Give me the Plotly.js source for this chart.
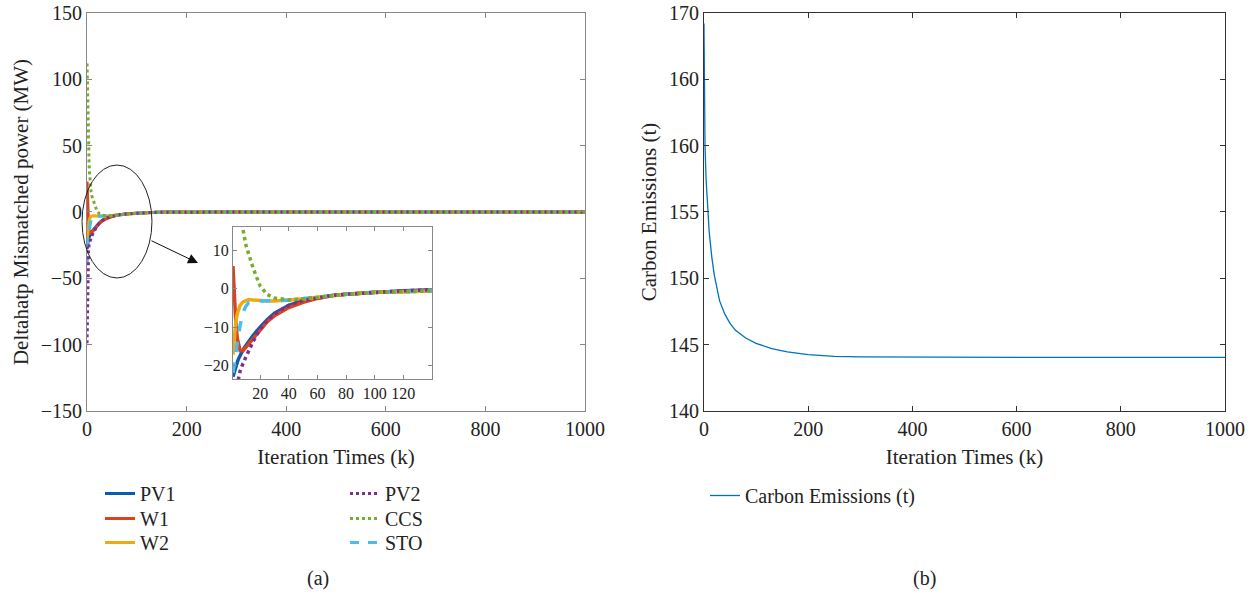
<!DOCTYPE html>
<html>
<head>
<meta charset="utf-8">
<script src="https://cdn.plot.ly/plotly-3.0.1.min.js"></script>
<style>html,body{margin:0;padding:0;background:#fff;}#chart{width:1258px;height:599px;}</style>
</head>
<body>
<div id="chart"></div>
<script>
// Iteration index for the mismatched-power series
const K    = [0, 1, 2, 3, 4, 5, 6, 8, 10, 12, 15, 20, 25, 30, 40, 50, 60, 70, 80, 100, 120, 140, 170, 200, 300, 400, 600, 800, 1000];
const PV1  = [-28, -23, -21.5, -20.3, -19.2, -18.2, -17.3, -16.0, -14.8, -13.7, -12.2, -10.0, -8.0, -6.4, -4.3, -3.0, -2.3, -1.75, -1.4, -0.9, -0.5, -0.25, -0.1, -0.04, 0, 0, 0, 0, 0];
const PV2  = [-99, -55, -38, -30, -25, -23, -21.5, -19.5, -17.8, -16.2, -13.8, -10.5, -8.2, -6.5, -4.3, -3.0, -2.3, -1.75, -1.4, -0.9, -0.5, -0.25, -0.1, -0.04, 0, 0, 0, 0, 0];
const W1   = [23, 6, -3, -9, -13, -15.3, -16.2, -16.2, -15.3, -14.3, -12.9, -10.5, -8.6, -7.0, -4.9, -3.5, -2.5, -1.8, -1.4, -0.9, -0.5, -0.25, -0.1, -0.04, 0, 0, 0, 0, 0];
const W2   = [-22, -17.2, -12, -8.5, -6.5, -5.2, -4.3, -3.4, -3.0, -2.8, -2.9, -3.1, -3.2, -3.2, -3.0, -2.6, -2.2, -1.8, -1.4, -0.9, -0.5, -0.25, -0.1, -0.04, 0, 0, 0, 0, 0];
const CCS  = [112, 85, 62, 47, 37, 29, 23, 15.5, 11.5, 9, 5.5, 0.7, -1.5, -2.4, -2.9, -2.6, -2.2, -1.8, -1.4, -0.9, -0.5, -0.25, -0.1, -0.04, 0, 0, 0, 0, 0];
const STO  = [-40, -22, -20, -17, -14, -11.5, -9.5, -6.2, -4.5, -3.6, -3.2, -3.2, -3.2, -3.2, -3.0, -2.6, -2.2, -1.8, -1.4, -0.9, -0.5, -0.25, -0.1, -0.04, 0, 0, 0, 0, 0];

// Carbon emissions
const CK = [0, 1, 2, 4, 6, 10, 15, 20, 30, 40, 50, 60, 80, 100, 130, 160, 200, 250, 300, 400, 500, 600, 800, 1000];
const CE = [169.2, 163, 160, 157.5, 155.8, 153.5, 151.6, 150.2, 148.3, 147.3, 146.6, 146.1, 145.5, 145.1, 144.7, 144.45, 144.25, 144.12, 144.08, 144.05, 144.04, 144.04, 144.04, 144.04];

const rightTicks = [140, 145, 150, 155, 160, 165, 170];
const rightTickText = ['140', '145', '150', '155', '160', '160', '170'];
const insetXTicks = [20, 40, 60, 80, 100, 120];
const insetYTicks = [-20, -10, 0, 10];

// legend slot: column (0/1) and row (0..2)
const series = [
  {name: 'PV1', y: PV1, color: '#0a5cb0', dash: 'solid', col: 0, row: 0},
  {name: 'W1',  y: W1,  color: '#d9431e', dash: 'solid', col: 0, row: 1},
  {name: 'W2',  y: W2,  color: '#edaa12', dash: 'solid', col: 0, row: 2},
  {name: 'STO', y: STO, color: '#4cbcec', dash: 'dash',  col: 1, row: 2},
  {name: 'PV2', y: PV2, color: '#7e2f8e', dash: 'dot',   col: 1, row: 0},
  {name: 'CCS', y: CCS, color: '#77ac30', dash: 'dot',   col: 1, row: 1}
];

const FONT = 'Liberation Serif, Times New Roman, serif';
const legColX = [100, 345];
const legRowTop = [474, 499, 523];
const legBase = {orientation: 'v', xanchor: 'left', yanchor: 'top',
  font: {family: FONT, size: 20, color: '#222'}, bgcolor: 'rgba(0,0,0,0)'};

const traces = [];
const legends = {};
series.forEach((s, i) => {
  const lname = i === 0 ? 'legend' : 'legend' + (i + 2);
  legends[lname] = Object.assign({}, legBase, {x: legColX[s.col] / 1258, y: 1 - legRowTop[s.row] / 599});
  traces.push({x: K, y: s.y, type: 'scatter', mode: 'lines', name: s.name,
    line: {color: s.color, width: 3, dash: s.dash}, xaxis: 'x', yaxis: 'y', legend: lname});
});
series.forEach(s => {
  traces.push({x: K.slice(1), y: s.y.slice(1), type: 'scatter', mode: 'lines', name: s.name, showlegend: false,
    line: {color: s.color, width: 3.5, dash: s.dash}, xaxis: 'x3', yaxis: 'y3'});
});
traces.push({x: CK, y: CE, type: 'scatter', mode: 'lines', name: 'Carbon Emissions (t)',
  line: {color: '#0072bd', width: 1.3}, xaxis: 'x2', yaxis: 'y2', legend: 'legend2'});
legends.legend2 = Object.assign({}, legBase, {x: 705/1258, y: 1 - 476/599});

const axBase = {showgrid: false, zeroline: false, showline: true, mirror: 'ticks',
  ticks: 'inside', ticklen: 5, tickwidth: 1, linewidth: 1,
  tickfont: {family: FONT, size: 20, color: '#222'}};

const layout = Object.assign({
  width: 1258, height: 599,
  margin: {l: 0, r: 0, t: 0, b: 0},
  paper_bgcolor: '#fff', plot_bgcolor: '#fff',
  font: {family: FONT, size: 20, color: '#222'},
  xaxis: Object.assign({}, axBase, {domain: [0.0692, 0.4650], range: [0, 1000], tickvals: [0,200,400,600,800,1000],
    linecolor: '#888', tickcolor: '#888', anchor: 'y',
    title: {text: 'Iteration Times (k)', font: {family: FONT, size: 21, color: '#222'}, standoff: 10}}),
  yaxis: Object.assign({}, axBase, {domain: [0.3139, 0.9783], range: [-150, 150], tickvals: [-150,-100,-50,0,50,100,150],
    linecolor: '#888', tickcolor: '#888', anchor: 'x',
    title: {text: 'Deltahatp Mismatched power (MW)', font: {family: FONT, size: 21, color: '#222'}, standoff: 6}}),
  xaxis2: Object.assign({}, axBase, {domain: [0.5596, 0.9738], range: [0, 1000], tickvals: [0,200,400,600,800,1000],
    linecolor: '#333', tickcolor: '#333', anchor: 'y2',
    title: {text: 'Iteration Times (k)', font: {family: FONT, size: 21, color: '#222'}, standoff: 10}}),
  yaxis2: Object.assign({}, axBase, {domain: [0.3139, 0.9783], range: [140, 170], tickvals: rightTicks, ticktext: rightTickText,
    linecolor: '#333', tickcolor: '#333', anchor: 'x2',
    title: {text: 'Carbon Emissions (t)', font: {family: FONT, size: 21, color: '#222'}, standoff: 6}}),
  xaxis3: Object.assign({}, axBase, {domain: [0.1852, 0.3434], range: [1, 140], tickvals: insetXTicks,
    linecolor: '#888', tickcolor: '#888', anchor: 'y3', ticklen: 4,
    tickfont: {family: FONT, size: 16, color: '#222'}}),
  yaxis3: Object.assign({}, axBase, {domain: [0.3673, 0.6210], range: [-23.6, 16.2], tickvals: insetYTicks,
    linecolor: '#888', tickcolor: '#888', anchor: 'x3', ticklen: 4,
    tickfont: {family: FONT, size: 16, color: '#222'}}),
  shapes: [
    {type: 'circle', xref: 'paper', yref: 'paper', x0: 0.0652, x1: 0.1208, y0: 0.5359, y1: 0.7245,
     line: {color: '#222', width: 1}, layer: 'above'}
  ],
  annotations: [
    {xref: 'paper', yref: 'paper', x: 0.1574, y: 0.5609, ax: -48, ay: -23, text: '', showarrow: true,
     arrowhead: 2, arrowsize: 2, arrowwidth: 1, arrowcolor: '#111'},
    {xref: 'paper', yref: 'paper', x: 318/1258, y: 1 - 578/599, xanchor: 'center', yanchor: 'middle',
     text: '(a)', showarrow: false, font: {family: FONT, size: 20, color: '#222'}},
    {xref: 'paper', yref: 'paper', x: 924/1258, y: 1 - 578/599, xanchor: 'center', yanchor: 'middle',
     text: '(b)', showarrow: false, font: {family: FONT, size: 20, color: '#222'}}
  ]
}, legends);

Plotly.newPlot('chart', traces, layout, {displayModeBar: false, staticPlot: true});
</script>
</body>
</html>
